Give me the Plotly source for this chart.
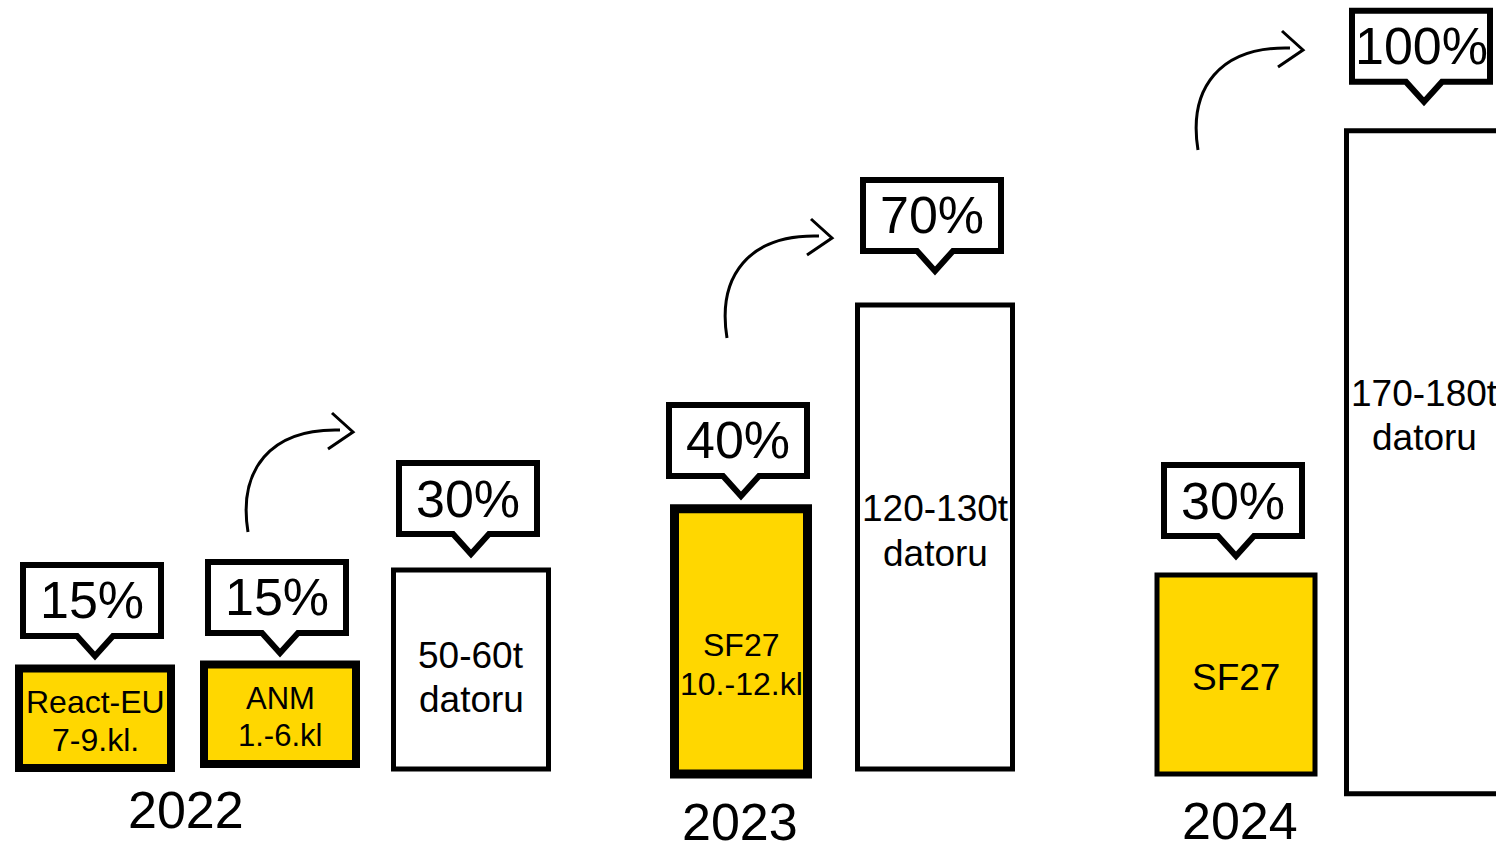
import plotly.graph_objects as go

# ---------------- data ----------------
bar_labels = ["React-EU<br>7-9.kl.", "ANM<br>1.-6.kl", "50-60t<br>datoru",
              "SF27<br>10.-12.kl", "120-130t<br>datoru", "SF27", "170-180t<br>datoru"]
shares = [15, 15, 30, 40, 70, 30, 100]
share_labels = ["15%", "15%", "30%", "40%", "70%", "30%", "100%"]
funded = [True, True, False, True, False, True, False]   # yellow = programme funded
years = ["2022", "2023", "2024"]

# ---------------- layout constants ----------------
W, H = 1496, 844
PXU = 6.63            # pixels per percentage point
Y0PX = 770            # pixel row of y = 0
YELLOW = "#FFD700"
FONT = "Liberation Sans, Arial, sans-serif"

bar_x = [95, 280, 471, 741, 935, 1236, 1424]
bar_w = [152, 152, 155, 133, 155, 158, 155]
bar_base = [0.3, 0.9, 0.15, -0.6, 0.15, -0.6, -3.6]
bar_lw = [8, 8, 5, 9, 5, 5, 5]
text_size = [32, 31, 37, 32, 37, 37, 37]
text_shift = [-3, -3, -8, -23, 6, -3, 47]
callout_gap = [12.6, 11.6, 16, 12.8, 34, 19, 29]   # px between bar top and pointer tip
BOX_HW, BOX_H, PTR_HW, PTR_H, BOX_DX = 69, 71, 18, 20, -3
year_x = [186, 740, 1240]
year_ypx = [810, 822, 821]
arrow_origin = [(248, 532), (727, 338), (1198, 150)]

fig = go.Figure()
fig.add_trace(go.Bar(
    x=bar_x, y=shares, base=bar_base, width=bar_w,
    marker=dict(color=[YELLOW if f else "white" for f in funded],
                line=dict(color="black", width=bar_lw)),
    hoverinfo="skip",
))

shapes = []
annotations = []

# text inside bars (one annotation per line, tighter line spacing)
for i, lab in enumerate(bar_labels):
    lines = lab.split("<br>")
    n = len(lines)
    step = 1.2 * text_size[i]
    for k, ln in enumerate(lines):
        off = ((n - 1) / 2 - k) * step
        annotations.append(dict(
            x=bar_x[i], y=bar_base[i] + shares[i] / 2, xref="x", yref="y",
            xanchor="center", yanchor="middle",
            text=ln, showarrow=False, yshift=text_shift[i] + off,
            font=dict(family=FONT, size=text_size[i], color="black"),
        ))

# callouts above bars
for i, lab in enumerate(share_labels):
    xc = bar_x[i]
    top = bar_base[i] + shares[i]
    tip = top + callout_gap[i] / PXU
    bb = tip + PTR_H / PXU
    bt = bb + BOX_H / PXU
    bc = xc + BOX_DX
    xl, xr = bc - BOX_HW, bc + BOX_HW
    path = (f"M {xl},{bb} L {xc-PTR_HW},{bb} L {xc},{tip} L {xc+PTR_HW},{bb} "
            f"L {xr},{bb} L {xr},{bt} L {xl},{bt} Z")
    shapes.append(dict(type="path", path=path, xref="x", yref="y",
                       fillcolor="white", line=dict(color="black", width=6),
                       layer="above"))
    annotations.append(dict(
        x=bc, y=(bb + bt) / 2, xref="x", yref="y", text=lab, showarrow=False,
        xanchor="center", yanchor="middle",
        font=dict(family=FONT, size=52, color="black"),
    ))

# year labels
for yr, xx, yp in zip(years, year_x, year_ypx):
    annotations.append(dict(
        x=xx, y=1 - yp / H, xref="x", yref="paper", text=yr, showarrow=False,
        xanchor="center", yanchor="middle",
        font=dict(family=FONT, size=52, color="black"),
    ))

# curved arrows
def P(ox, oy, dx, dy):
    return f"{ox + dx},{1 - (oy + dy) / H}"

for ox, oy in arrow_origin:
    shaft = (f"M {P(ox, oy, 0, 0)} C {P(ox, oy, -10, -62)} "
             f"{P(ox, oy, 22, -104)} {P(ox, oy, 92, -102)}")
    head = (f"M {P(ox, oy, 84, -119)} L {P(ox, oy, 105, -100)} "
            f"L {P(ox, oy, 80, -83)}")
    for pth in (shaft, head):
        shapes.append(dict(type="path", path=pth, xref="x", yref="paper",
                           line=dict(color="black", width=3)))

fig.update_layout(
    width=W, height=H,
    margin=dict(l=0, r=0, t=0, b=0),
    paper_bgcolor="white", plot_bgcolor="white",
    showlegend=False,
    xaxis=dict(range=[0, W], visible=False, fixedrange=True),
    yaxis=dict(range=[-(H - Y0PX) / PXU, Y0PX / PXU], visible=False, fixedrange=True),
    shapes=shapes,
    annotations=annotations,
)

fig.write_html("out.html", config=dict(displayModeBar=False),
               post_script="document.body.style.margin='0';"
                           "document.body.style.overflow='hidden';")
